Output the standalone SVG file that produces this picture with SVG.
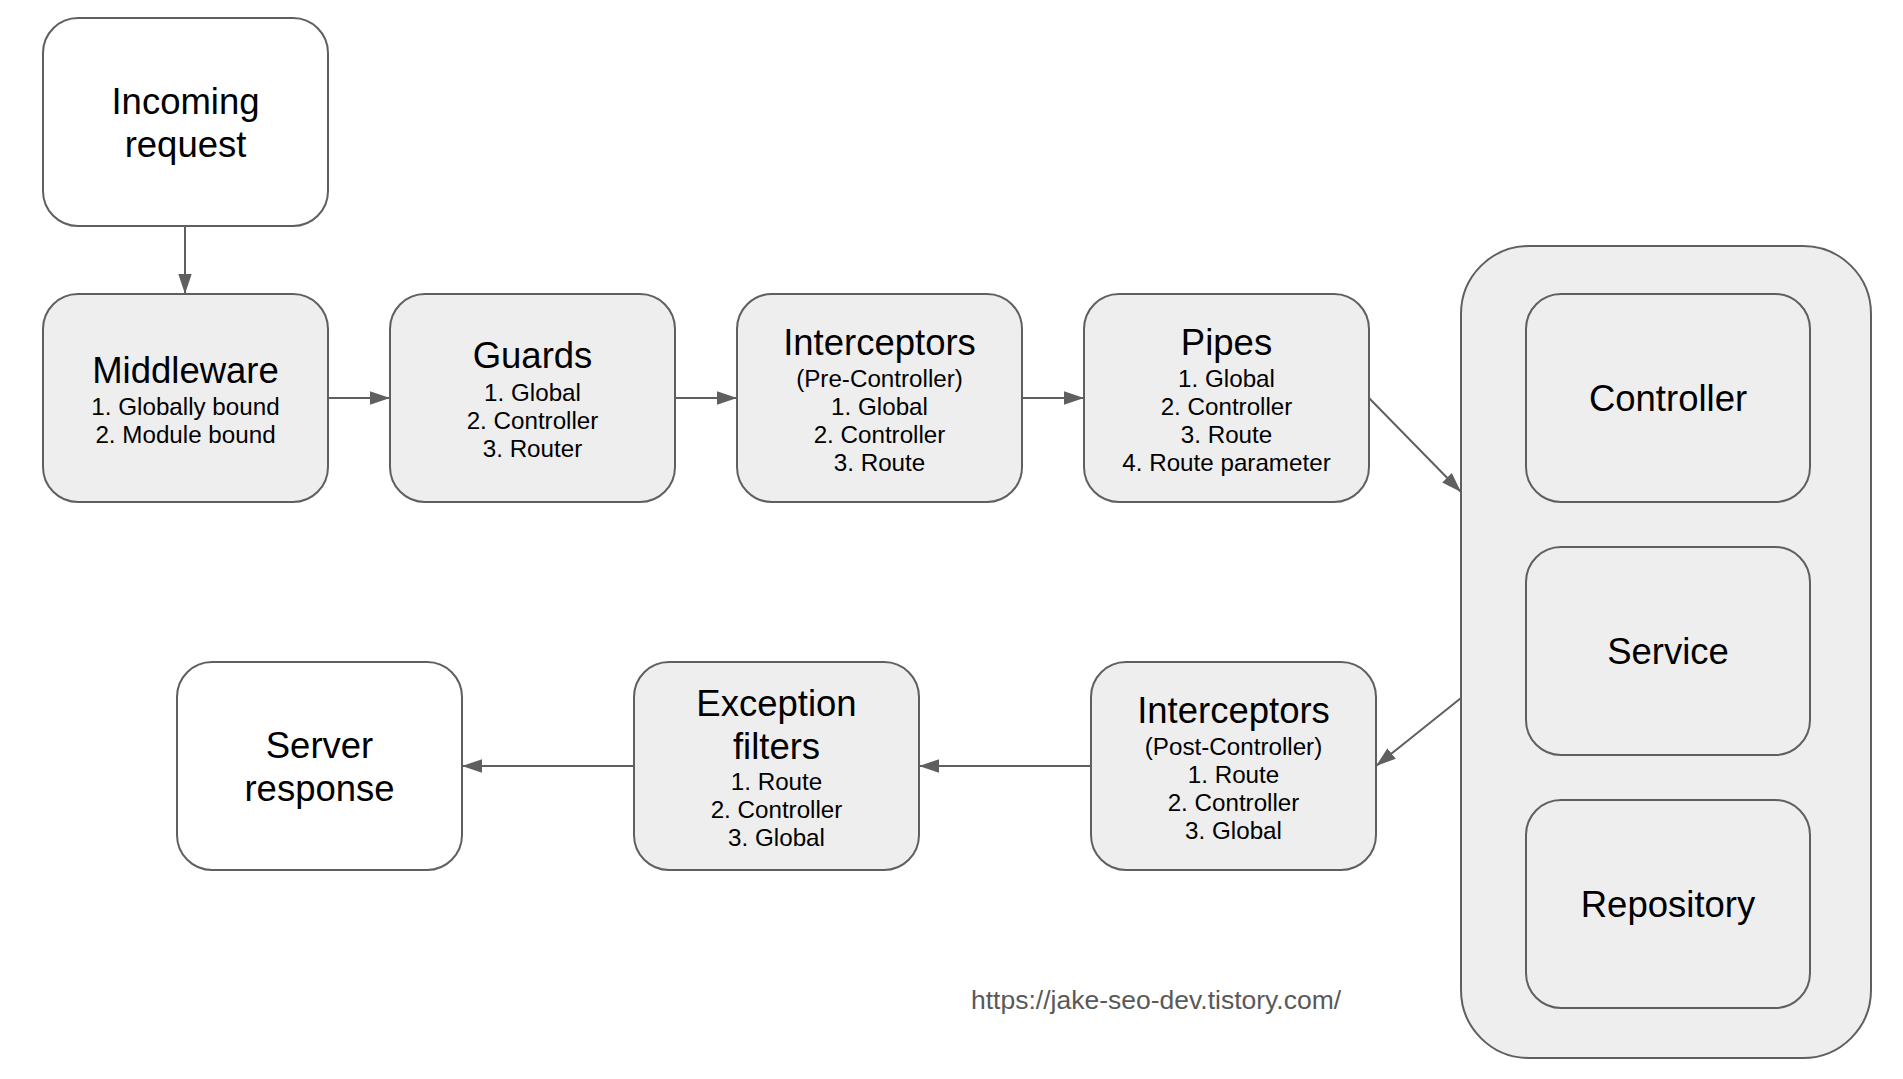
<svg xmlns="http://www.w3.org/2000/svg" width="1903" height="1079" viewBox="0 0 1903 1079">
<style>
  .box { stroke: #5f5f5f; stroke-width: 2; }
  .grey { fill: #eeeeee; }
  .white { fill: #ffffff; }
  .t { font-family: "Liberation Sans", Arial, sans-serif; fill: #000000; text-anchor: middle; }
  .title { font-size: 36.5px; }
  .sub { font-size: 24.2px; }
  .conn { stroke: #5f5f5f; stroke-width: 2; fill: none; marker-end: url(#arrow); }
  .url { font-family: "Liberation Sans", Arial, sans-serif; font-size: 26.5px; fill: #595959; }
</style>
<defs>
  <marker id="arrow" markerUnits="userSpaceOnUse" markerWidth="20" markerHeight="14" refX="20" refY="7" orient="auto">
    <path d="M0,0.3 L20,7 L0,13.7 z" fill="#5f5f5f"/>
  </marker>
</defs>
<rect width="1903" height="1079" fill="#ffffff"/>

<g id="incoming-request">
  <rect class="box white" x="43" y="18" width="285" height="208" rx="35" ry="35"/>
  <text class="t title" x="185.5" y="113.5">Incoming</text>
  <text class="t title" x="185.5" y="156.5">request</text>
</g>

<g id="middleware">
  <rect class="box grey" x="43" y="294" width="285" height="208" rx="35" ry="35"/>
  <text class="t title" x="185.5" y="383">Middleware</text>
  <text class="t sub" x="185.5" y="414.5">1. Globally bound</text>
  <text class="t sub" x="185.5" y="442.5">2. Module bound</text>
</g>

<g id="guards">
  <rect class="box grey" x="390" y="294" width="285" height="208" rx="35" ry="35"/>
  <text class="t title" x="532.5" y="368">Guards</text>
  <text class="t sub" x="532.5" y="400.5">1. Global</text>
  <text class="t sub" x="532.5" y="428.5">2. Controller</text>
  <text class="t sub" x="532.5" y="456.5">3. Router</text>
</g>

<g id="interceptors-pre">
  <rect class="box grey" x="737" y="294" width="285" height="208" rx="35" ry="35"/>
  <text class="t title" x="879.5" y="355">Interceptors</text>
  <text class="t sub" x="879.5" y="386.5">(Pre-Controller)</text>
  <text class="t sub" x="879.5" y="414.5">1. Global</text>
  <text class="t sub" x="879.5" y="442.5">2. Controller</text>
  <text class="t sub" x="879.5" y="470.5">3. Route</text>
</g>

<g id="pipes">
  <rect class="box grey" x="1084" y="294" width="285" height="208" rx="35" ry="35"/>
  <text class="t title" x="1226.5" y="355">Pipes</text>
  <text class="t sub" x="1226.5" y="386.5">1. Global</text>
  <text class="t sub" x="1226.5" y="414.5">2. Controller</text>
  <text class="t sub" x="1226.5" y="442.5">3. Route</text>
  <text class="t sub" x="1226.5" y="470.5">4. Route parameter</text>
</g>

<g id="application">
  <rect class="box grey" x="1461" y="246" width="410" height="812" rx="68" ry="68"/>
</g>

<g id="controller">
  <rect class="box grey" x="1526" y="294" width="284" height="208" rx="35" ry="35"/>
  <text class="t title" x="1668" y="411">Controller</text>
</g>

<g id="service">
  <rect class="box grey" x="1526" y="547" width="284" height="208" rx="35" ry="35"/>
  <text class="t title" x="1668" y="664">Service</text>
</g>

<g id="repository">
  <rect class="box grey" x="1526" y="800" width="284" height="208" rx="35" ry="35"/>
  <text class="t title" x="1668" y="917">Repository</text>
</g>

<g id="interceptors-post">
  <rect class="box grey" x="1091" y="662" width="285" height="208" rx="35" ry="35"/>
  <text class="t title" x="1233.5" y="723">Interceptors</text>
  <text class="t sub" x="1233.5" y="754.5">(Post-Controller)</text>
  <text class="t sub" x="1233.5" y="782.5">1. Route</text>
  <text class="t sub" x="1233.5" y="810.5">2. Controller</text>
  <text class="t sub" x="1233.5" y="838.5">3. Global</text>
</g>

<g id="exception-filters">
  <rect class="box grey" x="634" y="662" width="285" height="208" rx="35" ry="35"/>
  <text class="t title" x="776.5" y="715.5">Exception</text>
  <text class="t title" x="776.5" y="758.5">filters</text>
  <text class="t sub" x="776.5" y="790">1. Route</text>
  <text class="t sub" x="776.5" y="818">2. Controller</text>
  <text class="t sub" x="776.5" y="846">3. Global</text>
</g>

<g id="server-response">
  <rect class="box white" x="177" y="662" width="285" height="208" rx="35" ry="35"/>
  <text class="t title" x="319.5" y="757.5">Server</text>
  <text class="t title" x="319.5" y="800.5">response</text>
</g>

<g id="connectors">
  <line class="conn" x1="185" y1="227" x2="185" y2="294"/>
  <line class="conn" x1="328" y1="398" x2="390" y2="398"/>
  <line class="conn" x1="675" y1="398" x2="737" y2="398"/>
  <line class="conn" x1="1022" y1="398" x2="1084" y2="398"/>
  <line class="conn" x1="1369" y1="398" x2="1461" y2="492"/>
  <line class="conn" x1="1461" y1="698" x2="1376" y2="766"/>
  <line class="conn" x1="1091" y1="766" x2="919" y2="766"/>
  <line class="conn" x1="634" y1="766" x2="462" y2="766"/>
</g>

<text id="source-url" class="url" x="971" y="1009">https://jake-seo-dev.tistory.com/</text>
</svg>
